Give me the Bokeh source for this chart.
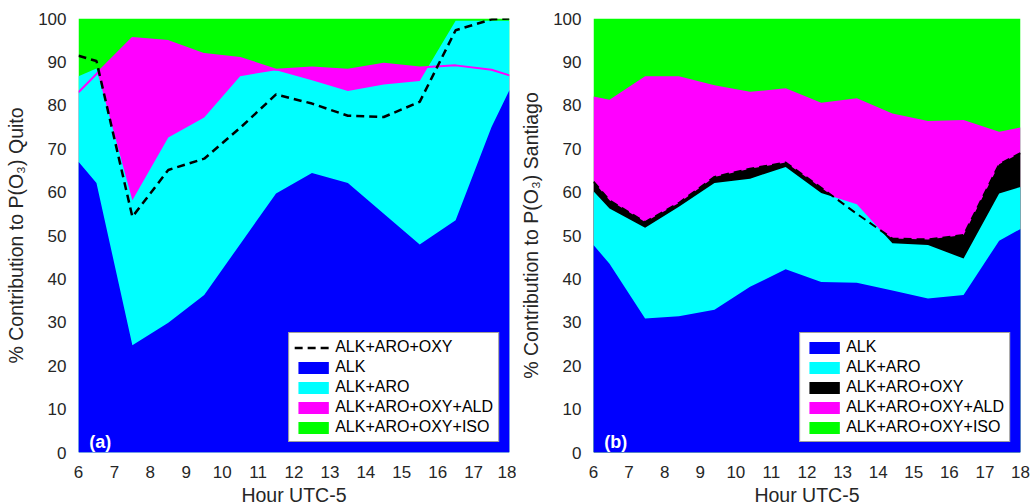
from bokeh.plotting import figure
from bokeh.layouts import row
from bokeh.models import Range1d, Legend, LegendItem, FixedTicker, Label
from bokeh.embed import file_html
from bokeh.resources import INLINE

# ---- Quito: cumulative contribution of VOC groups to P(O3), % ----
quito_hours = [6, 6.5, 7.5, 8.5, 9.5, 10.5, 11.5, 12.5, 13.5, 14.5, 15.5, 16.5, 17.5, 18]
quito_alk = [67.0, 62.1, 24.7, 29.9, 36.3, 48.0, 59.7, 64.4, 62.1, 55.0, 47.9, 53.5, 75.0, 83.5]
quito_alk_aro = [86.7, 88.5, 58.1, 72.6, 77.2, 86.7, 88.1, 85.8, 83.3, 84.8, 85.6, 99.5, 99.5, 99.5]
quito_alk_aro_oxy = [91.4, 90.2, 54.3, 65.1, 67.7, 74.8, 82.5, 80.4, 77.6, 77.3, 80.8, 97.3, 99.8, 100.0]
quito_ald = [83.0, 87.2, 95.5, 94.8, 91.8, 90.9, 88.2, 88.7, 88.2, 89.6, 88.7, 89.2, 88.2, 86.9]
quito_iso = [100.0] * 14

# ---- Santiago ----
santiago_hours = [6, 6.45, 7.45, 8.4, 9.4, 10.4, 11.4, 12.4, 13.4, 14.4, 15.4, 16.4, 17.4, 18]
santiago_alk = [47.8, 43.5, 30.9, 31.4, 32.9, 38.2, 42.2, 39.3, 39.1, 37.3, 35.5, 36.3, 48.8, 51.5]
santiago_alk_aro = [60.2, 56.2, 51.8, 56.6, 62.1, 63.1, 65.8, 59.8, 57.2, 48.2, 47.8, 44.7, 59.7, 61.2]
santiago_alk_aro_oxy = [62.4, 58.1, 53.1, 57.5, 63.5, 65.4, 66.8, 61.0, 55.0, 49.3, 49.1, 50.1, 66.4, 69.0]
santiago_ald = [82.0, 81.3, 86.7, 86.7, 84.6, 83.1, 83.9, 80.6, 81.6, 78.1, 76.4, 76.6, 73.9, 74.9]
santiago_iso = [100.0] * 14

hour_ticks = list(range(6, 19))
pct_ticks = list(range(0, 101, 10))

BLUE, CYAN, MAGENTA, GREEN, BLACK = "#0000FF", "#00FFFF", "#FF00FF", "#00FF00", "#000000"
TEXT = "#262626"
FONT = "Liberation Sans"


def base_figure(frame_w, left, right, ylabel):
    p = figure(frame_width=frame_w, frame_height=434,
               x_range=Range1d(6, 18), y_range=Range1d(0, 100),
               output_backend="svg", toolbar_location=None,
               min_border_left=left, min_border_right=right,
               min_border_top=18, min_border_bottom=52,
               background_fill_color="white", border_fill_color="white")
    p.outline_line_color = None
    p.xgrid.visible = False
    p.ygrid.visible = False
    p.xaxis.ticker = FixedTicker(ticks=hour_ticks)
    p.yaxis.ticker = FixedTicker(ticks=pct_ticks)
    for ax in (p.xaxis[0], p.yaxis[0]):
        ax.axis_line_color = None
        ax.major_tick_line_color = None
        ax.minor_tick_line_color = None
        ax.major_label_text_font = FONT
        ax.major_label_text_font_size = "17px"
        ax.major_label_text_color = TEXT
        ax.axis_label_text_font = FONT
        ax.axis_label_text_font_size = "19.5px"
        ax.axis_label_text_font_style = "normal"
        ax.axis_label_text_color = TEXT
    p.xaxis.axis_label = "Hour UTC-5"
    p.xaxis.major_label_standoff = 7
    p.xaxis.axis_label_standoff = 3
    p.yaxis.axis_label = ylabel
    p.yaxis.major_label_standoff = 6
    p.yaxis.axis_label_standoff = 8
    return p


def make_legend(items):
    return Legend(items=items, location="bottom_right", margin=10,
                  padding=5, spacing=2, glyph_width=38, glyph_height=15,
                  label_standoff=3, label_height=18,
                  label_text_font=FONT, label_text_font_size="16px",
                  label_text_color=BLACK,
                  border_line_color="#404040", border_line_width=1,
                  background_fill_color="white", background_fill_alpha=1.0)


def panel_tag(p, text):
    p.add_layout(Label(x=6.3, y=2.4, text=text, text_color="white",
                       text_font=FONT, text_font_style="bold",
                       text_font_size="18px", text_baseline="alphabetic"))


# ---- (a) Quito ----
p1 = base_figure(431, 78, 7, "% Contribution to P(O\u2083) Quito")
r_iso = p1.varea(x=quito_hours, y1=0, y2=quito_iso, fill_color=GREEN)
r_ald = p1.varea(x=quito_hours, y1=0, y2=quito_ald, fill_color=MAGENTA)
r_aro = p1.varea(x=quito_hours, y1=0, y2=quito_alk_aro, fill_color=CYAN)
r_alk = p1.varea(x=quito_hours, y1=0, y2=quito_alk, fill_color=BLUE)
p1.line(quito_hours, quito_ald, line_color=MAGENTA, line_width=2)
r_oxy = p1.line(quito_hours, quito_alk_aro_oxy, line_color=BLACK,
                line_width=2.5, line_dash="8 5")
p1.add_layout(make_legend([
    LegendItem(label="ALK+ARO+OXY", renderers=[r_oxy]),
    LegendItem(label="ALK", renderers=[r_alk]),
    LegendItem(label="ALK+ARO", renderers=[r_aro]),
    LegendItem(label="ALK+ARO+OXY+ALD", renderers=[r_ald]),
    LegendItem(label="ALK+ARO+OXY+ISO", renderers=[r_iso]),
]))
panel_tag(p1, "(a)")

# ---- (b) Santiago ----
p2 = base_figure(427, 77, 11, "% Contribution to P(O\u2083) Santiago")
s_iso = p2.varea(x=santiago_hours, y1=0, y2=santiago_iso, fill_color=GREEN)
s_ald = p2.varea(x=santiago_hours, y1=0, y2=santiago_ald, fill_color=MAGENTA)
s_oxy = p2.varea(x=santiago_hours, y1=0, y2=santiago_alk_aro_oxy, fill_color=BLACK)
s_aro = p2.varea(x=santiago_hours, y1=0, y2=santiago_alk_aro, fill_color=CYAN)
s_alk = p2.varea(x=santiago_hours, y1=0, y2=santiago_alk, fill_color=BLUE)
p2.line(santiago_hours, santiago_alk_aro_oxy, line_color=BLACK,
        line_width=2, line_dash="8 5")
p2.add_layout(make_legend([
    LegendItem(label="ALK", renderers=[s_alk]),
    LegendItem(label="ALK+ARO", renderers=[s_aro]),
    LegendItem(label="ALK+ARO+OXY", renderers=[s_oxy]),
    LegendItem(label="ALK+ARO+OXY+ALD", renderers=[s_ald]),
    LegendItem(label="ALK+ARO+OXY+ISO", renderers=[s_iso]),
]))
panel_tag(p2, "(b)")

layout = row(p1, p2)
open("out.html", "w").write(file_html(layout, INLINE))
